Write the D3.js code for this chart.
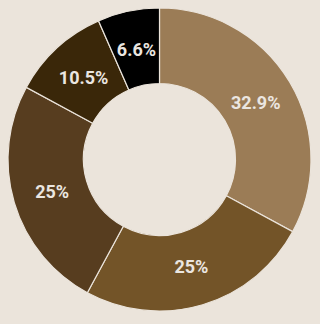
<!DOCTYPE html>
<html>
<head>
<meta charset="utf-8">
<script src="https://cdn.jsdelivr.net/npm/d3@7"></script>
<style>
  html, body { margin: 0; padding: 0; background: #ebe4db; }
  svg { display: block; }
</style>
</head>
<body>
<svg width="320" height="324"></svg>
<script>
// slice values in percent, clockwise from 12 o'clock
var labels = ["32.9%", "25%", "25%", "10.5%", "6.6%"];
var values = [32.9, 25, 25, 10.5, 6.6];
var colors = ["#9b7c56", "#735428", "#573d1f", "#3a2709", "#000000"];

var svg = d3.select("svg"),
    width = +svg.attr("width"),
    height = +svg.attr("height");

var cx = 159.5, cy = 159.5,
    outerR = 151.5, innerR = 76;

var pie = d3.pie().sort(null).value(function(d) { return d; });

var arc = d3.arc()
    .innerRadius(innerR)
    .outerRadius(outerR);

// labels sit a bit outside the ring's middle
var labelArc = d3.arc()
    .innerRadius(112)
    .outerRadius(112);

var g = svg.append("g")
    .attr("transform", "translate(" + cx + "," + cy + ")");

var arcs = pie(values);

g.selectAll("path")
    .data(arcs)
    .enter().append("path")
      .attr("d", arc)
      .attr("fill", function(d, i) { return colors[i]; })
      .attr("stroke", "#ebe4db")
      .attr("stroke-width", 1.2);

g.selectAll("text")
    .data(arcs)
    .enter().append("text")
      .attr("transform", function(d) { return "translate(" + labelArc.centroid(d) + ")"; })
      .attr("text-anchor", "middle")
      .attr("dy", "0.36em")
      .attr("font-family", "Roboto, sans-serif")
      .attr("font-weight", "bold")
      .attr("font-size", 18)
      .attr("fill", "#ebe6e0")
      .text(function(d, i) { return labels[i]; });
</script>
</body>
</html>
